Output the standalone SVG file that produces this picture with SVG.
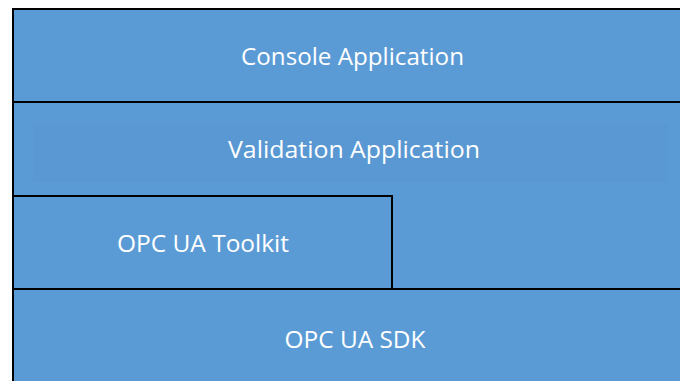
<svg xmlns="http://www.w3.org/2000/svg" width="680" height="381" viewBox="0 0 680 381">
<style>
.box{fill:#5B9BD5;stroke:#000;stroke-width:2}
.lbl{fill:#fff;font-family:"Open Sans","Liberation Sans",Arial,sans-serif;font-size:24px;text-anchor:middle}
</style>
<rect width="680" height="381" fill="#fff"/>
<g id="sdk"><rect class="box" x="13" y="289" width="680" height="110"/><text class="lbl" x="355" y="348" textLength="141" lengthAdjust="spacingAndGlyphs">OPC UA SDK</text></g>
<g id="validation"><rect class="box" x="13" y="102" width="680" height="187"/><rect x="33" y="123" width="635" height="59" fill="#5796CF" opacity="0.5"/><text class="lbl" x="354" y="158" textLength="252" lengthAdjust="spacingAndGlyphs">Validation Application</text></g>
<g id="toolkit"><rect class="box" x="13" y="196" width="379" height="93"/><text class="lbl" x="203" y="252" textLength="172" lengthAdjust="spacingAndGlyphs">OPC UA Toolkit</text></g>
<g id="console"><rect class="box" x="13" y="9" width="680" height="93"/><text class="lbl" x="352.5" y="65" textLength="223" lengthAdjust="spacingAndGlyphs">Console Application</text></g>
<g id="connectors"></g>
</svg>
